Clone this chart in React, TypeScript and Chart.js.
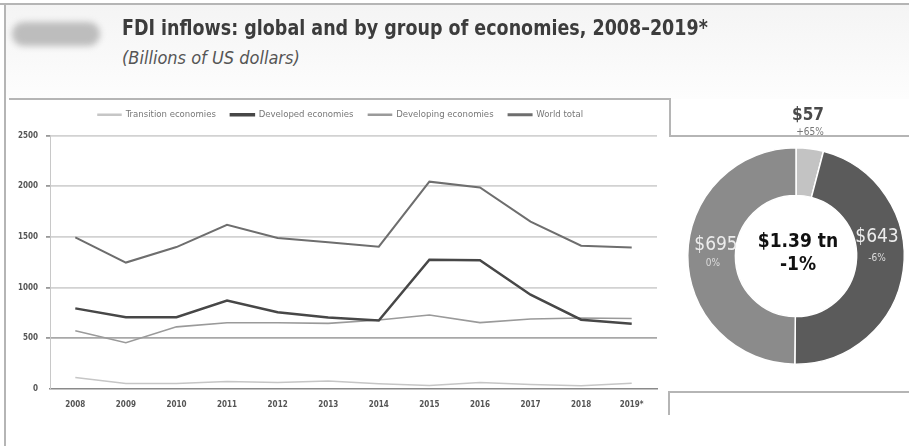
import React, { useEffect, useRef } from "react";
import { Chart, registerables } from "chart.js";
Chart.register(...registerables);

const years = ["2008", "2009", "2010", "2011", "2012", "2013", "2014", "2015", "2016", "2017", "2018", "2019*"];
const transition = [113, 55, 55, 73, 65, 80, 52, 35, 65, 45, 33, 57];
const developed = [795, 707, 707, 873, 757, 705, 675, 1275, 1270, 930, 683, 643];
const developing = [575, 457, 613, 653, 653, 647, 680, 730, 655, 690, 700, 695];
const worldTotal = [1495, 1247, 1400, 1620, 1490, 1447, 1403, 2045, 1987, 1650, 1413, 1395];
const seriesNames = ["Transition economies", "Developed economies", "Developing economies", "World total"];
const yTicks = [0, 500, 1000, 1500, 2000, 2500];

const donutValues = [57, 643, 695];
const donutValueLabels = ["$57", "$643", "$695"];
const donutChanges = ["+65%", "-6%", "0%"];
const totalLabel = "$1.39 tn";
const totalChange = "-1%";

const NARROW = '"Liberation Sans Narrow", "DejaVu Sans Condensed", "Roboto Condensed", "DejaVu Sans", sans-serif';

function LineChart() {
  const ref = useRef<HTMLCanvasElement>(null);
  useEffect(() => {
    const colors = ["#c6c6c6", "#474747", "#9a9a9a", "#6e6e6e"];
    const widths = [1.5, 2.5, 1.6, 2];
    const legendSpacer = {
      id: "legendSpacer",
      beforeInit(chart: any) {
        const orig = chart.legend.fit;
        chart.legend.fit = function () {
          orig.call(this);
          this.height += 6;
        };
      },
      afterLayout(chart: any) {
        if (chart.legend) {
          chart.legend.left += 12;
          chart.legend.right += 12;
        }
      },
    };
    const chart = new Chart(ref.current!, {
      type: "line",
      data: {
        labels: years,
        datasets: [transition, developed, developing, worldTotal].map((d, i) => ({
          label: seriesNames[i],
          data: d,
          borderColor: colors[i],
          backgroundColor: colors[i],
          borderWidth: widths[i],
          pointRadius: 0,
          tension: 0,
        })),
      },
      options: {
        animation: false,
        responsive: false,
        maintainAspectRatio: false,
        layout: { padding: { top: 0, right: 3, left: 0, bottom: 0 } },
        plugins: {
          tooltip: { enabled: false },
          legend: {
            position: "top",
            labels: {
              boxWidth: 23,
              boxHeight: 1,
              padding: 15,
              color: "#777",
              font: { size: 9.5, family: NARROW },
            },
          },
        },
        scales: {
          x: {
            offset: true,
            afterFit: (s: any) => { s.height = 26; },
            grid: { display: false, drawOnChartArea: false, tickLength: 5, offset: true },
            border: { color: "#8a8a8a", width: 1.5 },
            ticks: { color: "#555", font: { size: 8, weight: "bold", family: NARROW }, padding: 6, maxRotation: 0 },
          },
          y: {
            min: 0,
            max: 2500,
            afterFit: (s: any) => { s.width = 50; },
            afterBuildTicks: (s: any) => { s.ticks = yTicks.map((v) => ({ value: v })); },
            grid: {
              color: (c: any) => (c.tick && c.tick.value === 500 ? "#a8a8a8" : "#d2d2d2"),
              lineWidth: (c: any) => (c.tick && c.tick.value === 0 ? 0 : 1.8),
              tickLength: 4,
              tickColor: "#999",
            },
            border: { color: "#c8c8c8", width: 1 },
            ticks: {
              color: "#555",
              font: { size: 8, weight: "bold", family: NARROW },
              padding: 8,
              callback: (v: any) => String(v),
            },
          },
        },
      },
      plugins: [legendSpacer],
    });
    return () => chart.destroy();
  }, []);
  return <canvas ref={ref} width={660} height={320} style={{ position: "absolute", left: 0, top: 95, width: 660, height: 320 }} />;
}

function DonutChart() {
  const ref = useRef<HTMLCanvasElement>(null);
  useEffect(() => {
    const labelPlugin = {
      id: "donutLabels",
      afterDraw(chart: any) {
        const ctx = chart.ctx;
        const arcs = chart.getDatasetMeta(0).data;
        const cx = arcs[0].x;
        const cy = arcs[0].y;
        const r = arcs[0].outerRadius;
        ctx.save();
        ctx.textAlign = "center";
        ctx.textBaseline = "middle";
        // center
        ctx.fillStyle = "#111";
        ctx.font = `bold 19px ${NARROW}`;
        ctx.fillText(totalLabel, cx + 2, cy - 14);
        ctx.fillText(totalChange, cx + 2, cy + 9);
        // transition (outside, top)
        ctx.fillStyle = "#4a4a4a";
        ctx.font = `bold 17px ${NARROW}`;
        ctx.fillText(donutValueLabels[0], cx + 12, cy - r - 32);
        ctx.fillStyle = "#777";
        ctx.font = `10px ${NARROW}`;
        ctx.fillText(donutChanges[0], cx + 14, cy - r - 15);
        // developed
        ctx.fillStyle = "#ececec";
        ctx.font = `19px ${NARROW}`;
        ctx.fillText(donutValueLabels[1], cx + 81, cy - 19);
        ctx.font = `10px ${NARROW}`;
        ctx.fillStyle = "#dcdcdc";
        ctx.fillText(donutChanges[1], cx + 81, cy + 2);
        // developing
        ctx.fillStyle = "#ececec";
        ctx.font = `19px ${NARROW}`;
        ctx.fillText(donutValueLabels[2], cx - 80, cy - 11);
        ctx.font = `10px ${NARROW}`;
        ctx.fillStyle = "#dcdcdc";
        ctx.fillText(donutChanges[2], cx - 83, cy + 7);
        ctx.restore();
      },
    };
    const chart = new Chart(ref.current!, {
      type: "doughnut",
      data: {
        labels: seriesNames.slice(0, 3),
        datasets: [
          {
            data: donutValues,
            backgroundColor: ["#c3c3c3", "#5b5b5b", "#8b8b8b"],
            borderColor: "#ffffff",
            borderWidth: 1.5,
          },
        ],
      },
      options: {
        animation: false,
        responsive: false,
        maintainAspectRatio: false,
        cutout: "56%",
        layout: { padding: { top: 47, bottom: 15, left: 11, right: 11 } },
        plugins: { legend: { display: false }, tooltip: { enabled: false } },
      },
      plugins: [labelPlugin],
    });
    return () => chart.destroy();
  }, []);
  return <canvas ref={ref} width={240} height={280} style={{ position: "absolute", left: 676, top: 100, width: 240, height: 280 }} />;
}

export default function App() {
  const line = (s: React.CSSProperties) => <div style={{ position: "absolute", background: "#b5b5b5", ...s }} />;
  return (
    <div style={{ position: "absolute", left: 0, top: 0, width: 909, height: 446, background: "#fff", overflow: "hidden" }}>
      <div style={{ position: "absolute", left: 5, top: 4, width: 904, height: 95, background: "linear-gradient(#f4f4f4, #fdfdfd)" }} />
      <div style={{ position: "absolute", left: 12, top: 22, width: 88, height: 24, borderRadius: 12, background: "#bdbdbd", filter: "blur(3px)" }} />
      <div style={{ position: "absolute", left: 122, top: 16, fontFamily: NARROW, fontWeight: "bold", fontSize: 21, color: "#3c3c3c", whiteSpace: "nowrap", transform: "scaleX(0.927)", transformOrigin: "0 0" }}>
        FDI inflows: global and by group of economies, 2008–2019*
      </div>
      <div style={{ position: "absolute", left: 122, top: 47, fontFamily: NARROW, fontStyle: "italic", fontSize: 18, color: "#555", whiteSpace: "nowrap" }}>
        (Billions of US dollars)
      </div>
      {line({ left: 0, top: 3, width: 909, height: 1.5 })}
      {line({ left: 4, top: 3, width: 1.5, height: 443 })}
      {line({ left: 9, top: 98, width: 661, height: 1.5 })}
      {line({ left: 669, top: 98, width: 1.5, height: 38 })}
      {line({ left: 669, top: 135, width: 240, height: 1.5 })}
      {line({ left: 669, top: 391, width: 240, height: 1.5 })}
      {line({ left: 668, top: 391, width: 1.5, height: 24 })}
      <LineChart />
      <DonutChart />
    </div>
  );
}
